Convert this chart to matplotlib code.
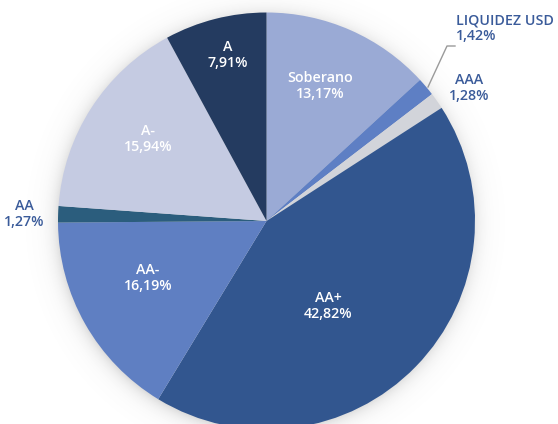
import numpy as np
import matplotlib
matplotlib.use("Agg")
import matplotlib.pyplot as plt

categories = ["Soberano", "LIQUIDEZ USD", "AAA", "AA+", "AA-", "AA", "A-", "A"]
values = [13.17, 1.42, 1.28, 42.82, 16.19, 1.27, 15.94, 7.91]
labels_pct = ["13,17%", "1,42%", "1,28%", "42,82%", "16,19%", "1,27%", "15,94%", "7,91%"]
colors = ["#9AAAD5", "#5E7FC4", "#D2D4DA", "#32568F", "#5F7FC2", "#2B5D7D", "#C5CBE2", "#243B60"]

W, H = 558, 424
fig = plt.figure(figsize=(W / 100, H / 100), dpi=100)
ax = fig.add_axes([0, 0, 1, 1])
ax.set_xlim(0, W)
ax.set_ylim(0, H)
ax.axis("off")

cx, cy, R = 266.5, H - 221, 208.5

# soft shadow
yy, xx = np.mgrid[0:H, 0:W]
d = np.sqrt((xx + 0.5 - (cx - 1)) ** 2 + ((H - yy - 0.5) - (cy - 2)) ** 2)
alpha = np.clip(0.25 * np.exp(-np.clip(d - R + 2, 0, None) / 8.0), 0, 1)
img = np.zeros((H, W, 4))
img[..., :3] = 0.45
img[..., 3] = alpha
ax.imshow(img, extent=(0, W, 0, H), origin="upper", zorder=0, interpolation="bilinear")

wedges, _ = ax.pie(values, colors=colors, startangle=90, counterclock=False,
                   center=(cx, cy), radius=R, wedgeprops=dict(linewidth=0))
for w in wedges:
    w.set_zorder(2)
ax.set_xlim(0, W)
ax.set_ylim(0, H)
ax.set_aspect("equal")

font = "Open Sans"
fs = 10.3
inside = {
    "Soberano": (320, 86),
    "A": (228, 55),
    "A-": (148, 139),
    "AA-": (148, 278),
    "AA+": (328, 306),
}
for cat, pct in zip(categories, labels_pct):
    if cat in inside:
        x, y = inside[cat]
        ax.text(x, H - y, f"{cat}\n{pct}", ha="center", va="center", color="white",
                fontsize=fs, family=font, fontweight="semibold", linespacing=1.15, zorder=5)

out_color = "#3A5B9A"
# LIQUIDEZ USD
ax.text(456, H - 28, f"{categories[1]}\n{labels_pct[1]}", ha="left", va="center",
        color=out_color, fontsize=fs, family=font, fontweight="semibold", linespacing=1.15, zorder=5)
ax.plot([428, 447, 455], [H - 87, H - 46, H - 46], color="#9A9A9A", lw=1, zorder=4)
# AAA
ax.text(469, H - 88, f"{categories[2]}\n{labels_pct[2]}", ha="center", va="center",
        color=out_color, fontsize=fs, family=font, fontweight="semibold", linespacing=1.15, zorder=5)
# AA
ax.text(24, H - 214, f"{categories[5]}\n{labels_pct[5]}", ha="center", va="center",
        color=out_color, fontsize=fs, family=font, fontweight="semibold", linespacing=1.15, zorder=5)

fig.savefig("out.png", dpi=100)
